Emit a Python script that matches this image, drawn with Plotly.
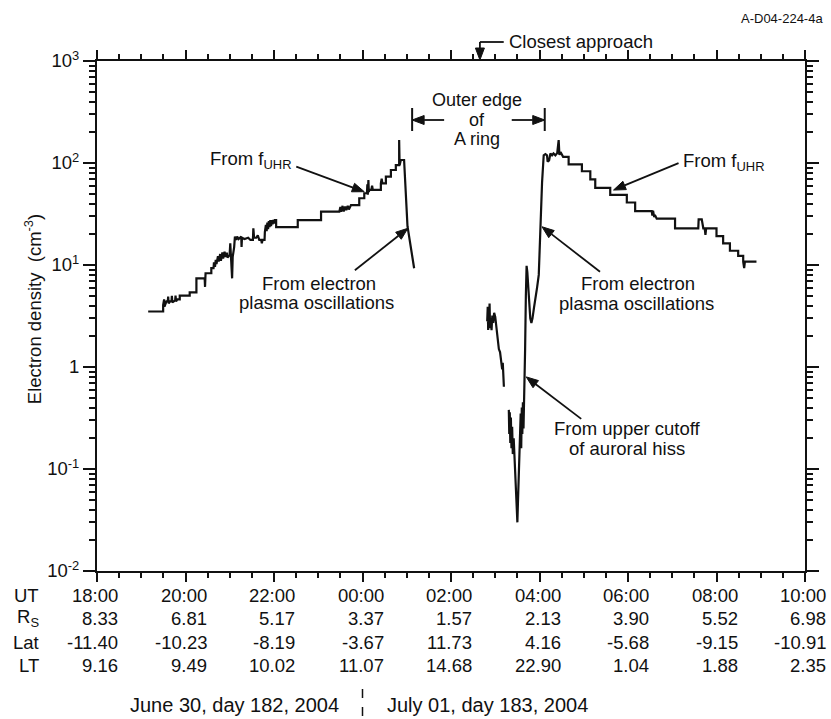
import math
import numpy as np
import pandas as pd
import plotly.graph_objects as go

# ---------------------------------------------------------------------------
# Electron density along the Cassini Saturn-orbit-insertion pass
# Times are minutes after 2004-06-30 18:00 UT, densities in cm^-3
# ---------------------------------------------------------------------------

# inbound leg (f_UHR staircase, then electron plasma oscillations)
inbound_min = [
    69.4, 89.7, 89.7, 91.0, 91.5, 93.0, 94.2, 96.0, 96.5, 97.2, 99.0, 101.0,
    101.5, 102.2, 104.0, 106.0, 106.5, 107.2, 109.0, 112.2, 112.2, 125.7,
    125.7, 134.8, 134.8, 146.0, 146.5, 147.2, 155.0, 155.0, 158.0, 158.6,
    160.0, 161.0, 162.0, 164.0, 165.0, 167.0, 168.0, 170.0, 171.0, 173.0,
    174.0, 176.0, 177.0, 179.8, 180.7, 181.5, 182.5, 183.2, 184.0, 186.0,
    187.0, 188.8, 190.0, 192.0, 195.6, 196.0, 196.6, 200.0, 205.0, 208.0,
    211.4, 212.0, 213.0, 215.9, 218.0, 220.0, 222.7, 223.5, 224.5, 227.2,
    227.6, 229.0, 230.0, 231.0, 232.0, 233.0, 234.0, 235.0, 236.0, 237.0,
    238.0, 239.0, 240.0, 241.0, 242.9, 242.9, 272.2, 272.2, 303.8, 303.8,
    328.6, 330.0, 331.0, 333.0, 334.5, 336.5, 338.0, 340.0, 341.5, 344.4,
    355.6, 355.6, 362.4, 362.4, 366.0, 366.6, 367.2, 368.0, 368.6, 369.1,
    372.0, 373.0, 374.0, 384.9, 384.9, 386.0, 387.0, 391.7, 391.7, 398.5,
    398.5, 405.2, 405.2, 409.7, 409.7, 410.3, 412.0, 416.4, 421.0, 430.0,
]
inbound_ne = [
    3.5, 3.5, 4.05, 4.6, 3.9, 4.1, 4.4, 4.4, 4.9, 4.2, 4.4, 4.4,
    5.0, 4.3, 4.4, 4.5, 5.0, 4.4, 4.6, 4.6, 5.0, 5.0,
    5.4, 5.4, 7.4, 7.4, 6.1, 8.3, 8.3, 9.3, 9.3, 10.6,
    9.6, 11.2, 10.2, 12.2, 10.8, 12.8, 11.0, 13.3, 11.6, 13.5,
    12.0, 13.2, 11.8, 12.5, 16.3, 12.5, 12.5, 7.4, 12.0, 15.0,
    19.0, 17.6, 19.0, 18.0, 19.0, 15.0, 18.5, 18.0, 18.5, 17.6,
    17.6, 22.9, 18.5, 18.5, 19.5, 17.6, 17.6, 16.3, 17.6, 17.6,
    21.0, 24.7, 21.5, 26.0, 22.5, 27.0, 23.5, 27.6, 24.0, 27.6,
    25.0, 27.6, 25.5, 27.6, 27.6, 23.5, 23.5, 27.6, 27.6, 33.3,
    33.3, 37.0, 33.3, 38.0, 33.5, 37.5, 34.5, 38.0, 35.0, 38.7,
    38.7, 45.1, 45.1, 50.5, 50.5, 62.0, 49.0, 68.0, 52.0, 54.4,
    54.4, 60.0, 54.4, 54.4, 63.2, 70.0, 63.2, 63.2, 73.4, 73.4,
    85.4, 85.4, 95.5, 95.5, 168.0, 95.0, 107.0, 107.0, 24.0, 9.3,
]

# first outbound fragment (auroral hiss cutoff)
hiss_min = [
    529.1, 529.8, 530.4, 531.0, 531.6, 532.3, 533.0, 534.0, 535.0, 536.0,
    537.2, 538.5, 540.0, 541.5, 543.0, 544.9, 546.5, 548.0, 549.4, 550.2,
    551.0, 551.7,
]
hiss_ne = [
    2.8, 3.9, 2.3, 3.6, 2.6, 4.2, 2.4, 3.0, 2.3, 3.2,
    2.7, 3.4, 3.1, 2.4, 1.9, 1.5, 1.4, 1.15, 0.95, 1.1,
    0.8, 0.64,
]

# outbound leg (hiss cutoff, plasma oscillations, then f_UHR staircase)
outbound_min = [
    558.4, 559.0, 559.7, 560.4, 561.2, 562.0, 562.9, 563.8, 565.0, 566.5,
    567.5, 568.5, 569.3, 570.0, 570.7, 571.5, 572.3, 573.0, 573.8, 574.5,
    575.2, 576.0, 576.7, 577.5, 578.3, 579.3, 580.5, 581.5, 582.5, 583.5,
    584.5, 586.0, 587.5, 589.0, 590.5, 592.5, 594.5, 596.7, 599.0, 601.2,
    603.5, 605.7, 608.0, 610.2, 611.0, 613.0, 614.8, 617.0, 619.0, 621.5,
    624.0, 626.0, 627.0, 628.5, 630.5, 632.0, 639.5, 639.5, 657.5, 657.5,
    668.9, 668.9, 675.6, 675.6, 695.9, 695.9, 718.4, 718.4, 729.7, 729.7,
    752.2, 753.0, 754.0, 755.5, 756.5, 758.9, 783.8, 783.8, 815.3, 815.8,
    820.0, 822.1, 824.0, 825.0, 826.0, 840.0, 840.0, 849.0, 849.0, 858.2,
    858.2, 869.4, 869.4, 876.2, 876.2, 877.5, 878.5, 894.2,
]
outbound_ne = [
    0.38, 0.22, 0.36, 0.18, 0.32, 0.16, 0.26, 0.14, 0.20, 0.12,
    0.09, 0.06, 0.04, 0.03, 0.045, 0.07, 0.10, 0.13, 0.18, 0.35,
    0.16, 0.40, 0.22, 0.45, 0.25, 0.5, 1.5, 5.0, 9.8, 8.5,
    6.0, 4.0, 3.0, 2.7, 3.0, 3.8, 4.6, 6.0, 8.0, 25.8,
    65.0, 119.0, 122.0, 119.0, 103.0, 106.0, 124.0, 119.0, 124.0, 119.0,
    125.0, 168.0, 120.0, 128.0, 119.0, 115.0, 115.0, 97.0, 97.0, 83.0,
    83.0, 69.0, 69.0, 57.0, 57.0, 48.6, 48.6, 41.0, 41.0, 33.7,
    33.7, 30.5, 34.0, 29.5, 31.0, 28.5, 28.5, 22.9, 22.9, 28.0,
    28.0, 22.9, 22.9, 19.7, 22.9, 22.9, 19.2, 19.2, 16.3, 16.3,
    13.8, 13.8, 12.3, 12.3, 10.8, 9.3, 10.8, 10.8,
]

# ephemeris table under the time axis
ut_labels = ["18:00", "20:00", "22:00", "00:00", "02:00", "04:00", "06:00", "08:00", "10:00"]
rs_values = ["8.33", "6.81", "5.17", "3.37", "1.57", "2.13", "3.90", "5.52", "6.98"]
lat_values = ["-11.40", "-10.23", "-8.19", "-3.67", "11.73", "4.16", "-5.68", "-9.15", "-10.91"]
lt_values = ["9.16", "9.49", "10.02", "11.07", "14.68", "22.90", "1.04", "1.88", "2.35"]

y_tickvals = [0.01, 0.1, 1, 10, 100, 1000]
y_ticktext = ["10<sup>-2</sup>", "10<sup>-1</sup>", "1", "10<sup>1</sup>", "10<sup>2</sup>", "10<sup>3</sup>"]

# event times (minutes after 18:00 UT)
closest_approach_min = 519.2
ring_edge_in_min = 427.3
ring_edge_out_min = 607.1

T0 = pd.Timestamp("2004-06-30 18:00")
Y_DECADES = (-2, 3)


def ut(minutes):
    return [(T0 + pd.Timedelta(minutes=float(m))).isoformat() for m in minutes]


def at(m):
    return (T0 + pd.Timedelta(minutes=float(m))).isoformat()


def yfrac(value):
    """paper fraction of a density on the log axis"""
    return (math.log10(value) - Y_DECADES[0]) / (Y_DECADES[1] - Y_DECADES[0])


# frame geometry (pixels) used for placing text outside the axes
W, H = 831, 719
L, R, T, B = 97, 807, 61, 571


def px(x):
    return (x - L) / (R - L)


def py(y):
    return (B - y) / (B - T)


FONT = "Liberation Sans, Arial, Helvetica, sans-serif"
INK = "#111111"
FS = 18.5

fig = go.Figure()
for mins, ne in [(inbound_min, inbound_ne), (hiss_min, hiss_ne), (outbound_min, outbound_ne)]:
    fig.add_trace(go.Scatter(
        x=ut(mins), y=ne, mode="lines",
        line=dict(color=INK, width=2.2), showlegend=False, hoverinfo="skip",
    ))

annotations = []
shapes = []


def label(x, y, s, size=FS, xanchor="center", xref="paper", yref="paper", **kw):
    annotations.append(dict(
        x=x, y=y, xref=xref, yref=yref, text=s, showarrow=False,
        xanchor=xanchor, yanchor="middle", font=dict(size=size, color=INK, family=FONT), **kw,
    ))


def arrow(xa, ya, dx, dy, xref="x"):
    """Arrow with its head at (xa, ya) and its tail dx, dy screen pixels away
    (dy positive downwards). ya is a paper fraction."""
    ux, uy = -dx, dy                      # tail -> head, y up
    n = math.hypot(ux, uy)
    ux, uy = ux / n, uy / n
    hl, hw = 12.0, 4.5
    bx, by = -ux * hl, -uy * hl
    nx, ny = -uy, ux
    common = dict(xref=xref, yref="paper", xsizemode="pixel", ysizemode="pixel",
                  xanchor=xa, yanchor=ya)
    shapes.append(dict(type="line", x0=dx, y0=-dy, x1=bx, y1=by,
                       line=dict(color=INK, width=1.8), **common))
    shapes.append(dict(
        type="path",
        path=f"M0,0 L{bx + nx * hw:.2f},{by + ny * hw:.2f} L{bx - nx * hw:.2f},{by - ny * hw:.2f} Z",
        fillcolor=INK, line=dict(color=INK, width=1), **common))


# figure id and y title
label(px(827), py(18), "A-D04-224-4a", size=13, xanchor="right")
label(px(33), py(309), "Electron density&nbsp; (cm<sup>-3</sup>)", textangle=-90)

# closest approach marker
label(px(508), py(42), "Closest approach", xanchor="left")
arrow(at(closest_approach_min), py(60), 0, -18)
shapes.append(dict(type="line", xref="x", yref="paper", x0=at(closest_approach_min), x1=at(551.5),
                   y0=py(42), y1=py(42), line=dict(color=INK, width=1.8)))

# outer edge of the A ring
for s, yy in [("Outer edge", 100), ("of", 120), ("A ring", 139)]:
    label(px(478), py(yy), s, size=18)
arrow(at(ring_edge_in_min), py(120), 32, 0)
arrow(at(ring_edge_out_min), py(120), -33, 0)
for m in (ring_edge_in_min, ring_edge_out_min):
    shapes.append(dict(type="line", xref="x", yref="paper", x0=at(m), x1=at(m),
                       y0=py(108), y1=py(131), line=dict(color=INK, width=2)))

# inbound labels
label(px(208), py(160), "From f<sub>UHR</sub>", xanchor="left")
arrow(at(362.4), yfrac(52.3), -68, -25)
label(px(260), py(283), "From electron", xanchor="left")
label(px(237), py(302), "plasma oscillations", xanchor="left")
arrow(at(421.5), yfrac(22.9), -53, 42)

# outbound labels
label(px(683), py(162), "From f<sub>UHR</sub>", xanchor="left")
arrow(at(700.4), yfrac(54.3), 65, -27)
label(px(580), py(283), "From electron", xanchor="left")
label(px(558), py(303), "plasma oscillations", xanchor="left")
arrow(at(603.4), yfrac(23.7), 58, 45)
label(px(553), py(428), "From upper cutoff", xanchor="left")
label(px(568), py(448), "of auroral hiss", xanchor="left")
arrow(at(582.0), yfrac(0.8), 55, 42)

# ephemeris table
row_y = [595, 618, 642, 665]
for name, yy in zip(["UT", "R<sub>S</sub>", "Lat", "LT"], row_y):
    label(px(41), py(yy), name, xanchor="right")
for i in range(len(ut_labels)):
    t = at(120 * i)
    for vals, yy in zip([ut_labels, rs_values, lat_values, lt_values], row_y):
        label(t, py(yy), vals[i], xanchor="right", xref="x", xshift=23)

# day labels and the day boundary
label(px(342), py(705), "June 30, day 182, 2004", size=20, xanchor="right")
label(px(386), py(705), "July 01, day 183, 2004", size=20, xanchor="left")
shapes.append(dict(type="line", xref="x", yref="paper", x0=at(360), x1=at(360),
                   y0=py(689), y1=py(719), line=dict(color=INK, width=1.5, dash="dash")))

minor_y = [k * 10.0 ** d for d in range(Y_DECADES[0], Y_DECADES[1]) for k in range(2, 10)]

fig.update_layout(
    width=W, height=H,
    margin=dict(l=L, r=W - R, t=T, b=H - B),
    paper_bgcolor="white", plot_bgcolor="white",
    font=dict(family=FONT, size=FS, color=INK),
    annotations=annotations, shapes=shapes,
    xaxis=dict(
        type="date", range=[at(0), at(960)],
        tick0=at(0), dtick=2 * 3600 * 1000, showticklabels=False,
        ticks="outside", ticklen=9, tickwidth=1.5, tickcolor=INK,
        minor=dict(dtick=30 * 60 * 1000, ticks="outside", ticklen=5, tickwidth=1.5, tickcolor=INK),
        showline=True, linewidth=2, linecolor=INK, mirror="ticks",
        showgrid=False, zeroline=False,
    ),
    yaxis=dict(
        type="log", range=list(Y_DECADES),
        tickmode="array", tickvals=y_tickvals, ticktext=y_ticktext,
        ticks="outside", ticklen=12, tickwidth=1.5, tickcolor=INK,
        minor=dict(tickvals=minor_y, ticks="outside", ticklen=6, tickwidth=1.5, tickcolor=INK),
        tickfont=dict(size=FS, color=INK, family=FONT),
        showline=True, linewidth=2, linecolor=INK, mirror="ticks",
        showgrid=False, zeroline=False,
    ),
)

fig.write_html("out.html")
